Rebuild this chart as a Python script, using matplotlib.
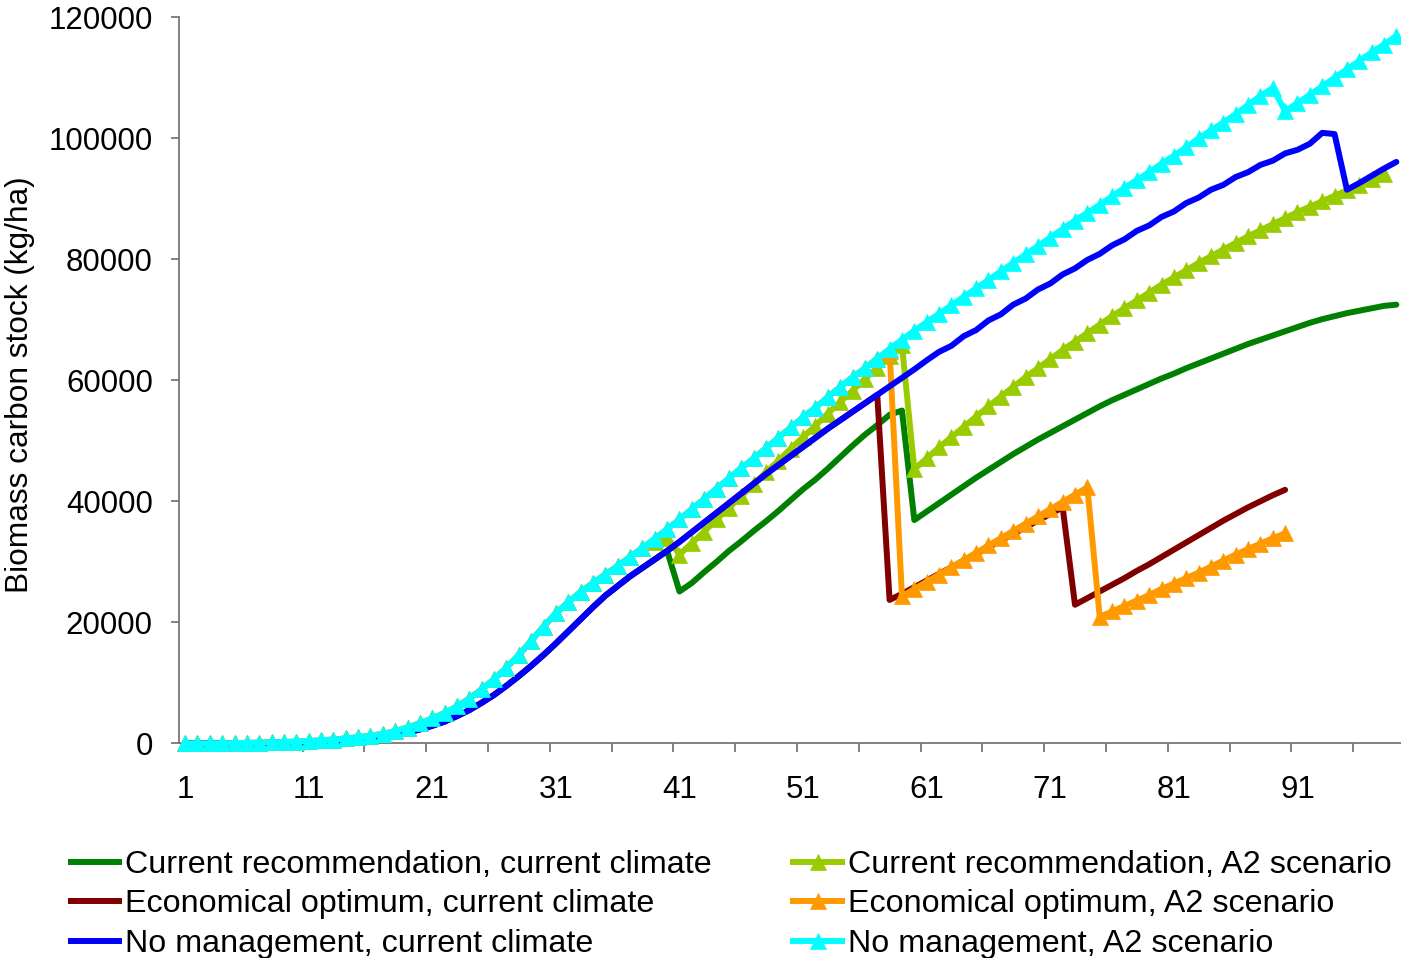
import matplotlib
matplotlib.use('Agg')
import matplotlib.pyplot as plt
from matplotlib.lines import Line2D

plt.rcParams['font.family'] = ['Liberation Sans', 'DejaVu Sans']

# ---------------- data ----------------
years = list(range(1, 100))

no_mgmt_cc = [0, 0, 0, 0, 10, 20, 40, 70, 100, 150,
              220, 300, 400, 520, 670, 850, 1100, 1400, 1800, 2300,
              2900, 3600, 4500, 5500, 6700, 8000, 9500, 11100, 12800, 14600,
              16500, 18500, 20500, 22500, 24400, 26000, 27600, 29000, 30400, 31800,
              33300, 34900, 36500, 38100, 39700, 41300, 42900, 44500, 46000, 47500,
              49000, 50500, 52000, 53400, 54800, 56200, 57600, 59000, 60400, 61800,
              63300, 64700, 65700, 67300, 68300, 69900, 70900, 72500, 73500, 75000,
              76000, 77500, 78500, 79900, 80900, 82300, 83300, 84700, 85600, 87000,
              87900, 89300, 90200, 91500, 92300, 93600, 94400, 95600, 96300, 97500,
              98100, 99100, 100900, 100700, 91500, 92600, 93800, 95000, 96100]

cur_rec_cc = [0, 0, 0, 0, 10, 20, 40, 70, 100, 150,
              220, 300, 400, 520, 670, 850, 1100, 1400, 1800, 2300,
              2900, 3600, 4500, 5500, 6700, 8000, 9500, 11100, 12800, 14600,
              16500, 18500, 20500, 22500, 24400, 26000, 27600, 29000, 30400, 31800,
              25100, 26500, 28300, 30000, 31800, 33400, 35100, 36700, 38400, 40200,
              42000, 43600, 45400, 47300, 49200, 51000, 52600, 54300, 55000, 36900,
              38300, 39700, 41100, 42500, 43900, 45200, 46500, 47800, 49000, 50200,
              51300, 52400, 53500, 54600, 55700, 56700, 57600, 58500, 59400, 60300,
              61100, 62000, 62800, 63600, 64400, 65200, 66000, 66700, 67400, 68100,
              68800, 69500, 70100, 70600, 71100, 71500, 71900, 72300, 72500]

econ_opt_cc = [0, 0, 0, 0, 10, 20, 40, 70, 100, 150,
               220, 300, 400, 520, 670, 850, 1100, 1400, 1800, 2300,
               2900, 3600, 4500, 5500, 6700, 8000, 9500, 11100, 12800, 14600,
               16500, 18500, 20500, 22500, 24400, 26000, 27600, 29000, 30400, 31800,
               33300, 34900, 36500, 38100, 39700, 41300, 42900, 44500, 46000, 47500,
               49000, 50500, 52000, 53400, 54800, 56200, 57600, 23700, 24700, 25800,
               26900, 28000, 29100, 30200, 31300, 32400, 33500, 34600, 35700, 36800,
               37900, 39000, 22900, 24000, 25100, 26200, 27300, 28500, 29600, 30800,
               32000, 33200, 34400, 35600, 36800, 37900, 39000, 40000, 41000, 41900]

no_mgmt_a2 = [0, 0, 0, 20, 40, 70, 100, 150, 200, 280,
              370, 480, 620, 800, 1000, 1250, 1550, 2000, 2600, 3300,
              4100, 5000, 6100, 7400, 8900, 10600, 12500, 14600, 16900, 19300,
              21500, 23300, 25000, 26500, 27900, 29300, 30800, 32300, 33800, 35400,
              37000, 38700, 40400, 42100, 43800, 45500, 47100, 48800, 50500, 52200,
              53900, 55500, 57200, 58900, 60500, 62000, 63600, 65200, 66700, 68200,
              69600, 71000, 72400, 73800, 75200, 76600, 78000, 79400, 80800, 82200,
              83600, 85000, 86400, 87700, 89000, 90400, 91800, 93100, 94400, 95800,
              97100, 98500, 100000, 101300, 102600, 104000, 105500, 107000, 108300, 104500,
              105800, 107200, 108600, 110000, 111400, 112800, 114200, 115500, 116900]

cur_rec_a2 = [0, 0, 0, 20, 40, 70, 100, 150, 200, 280,
              370, 480, 620, 800, 1000, 1250, 1550, 2000, 2600, 3300,
              4100, 5000, 6100, 7400, 8900, 10600, 12500, 14600, 16900, 19300,
              21500, 23300, 25000, 26500, 27900, 29300, 30800, 32300, 33200, 34000,
              31200, 33100, 35000, 37000, 38900, 40900, 42800, 44800, 46700, 48700,
              50600, 52500, 54500, 56400, 58300, 60200, 62100, 64000, 65800, 45300,
              47100, 48900, 50600, 52300, 54000, 55700, 57300, 58900, 60500, 62000,
              63500, 65000, 66400, 67800, 69200, 70600, 71900, 73200, 74500, 75800,
              77000, 78200, 79400, 80500, 81600, 82700, 83800, 84800, 85800, 86800,
              87800, 88700, 89600, 90500, 91400, 92300, 93200, 94100]

econ_opt_a2 = [0, 0, 0, 20, 40, 70, 100, 150, 200, 280,
               370, 480, 620, 800, 1000, 1250, 1550, 2000, 2600, 3300,
               4100, 5000, 6100, 7400, 8900, 10600, 12500, 14600, 16900, 19300,
               21500, 23300, 25000, 26500, 27900, 29300, 30800, 32300, 33800, 35400,
               37000, 38700, 40400, 42100, 43800, 45500, 47100, 48800, 50500, 52200,
               53900, 55500, 57200, 58900, 60500, 62000, 63600, 64800, 24300, 25500,
               26700, 27900, 29100, 30300, 31500, 32700, 33900, 35100, 36300, 37500,
               38700, 39900, 41100, 42300, 20900, 21800, 22700, 23600, 24500, 25500,
               26400, 27300, 28200, 29200, 30200, 31200, 32100, 33000, 33900, 34700]

x_tick_labels = ['1', '11', '21', '31', '41', '51', '61', '71', '81', '91']
y_ticks = [0, 20000, 40000, 60000, 80000, 100000, 120000]

series = [
    ("Current recommendation, current climate", cur_rec_cc, '#008000', None),
    ("Current recommendation, A2 scenario", cur_rec_a2, '#99CC00', '^'),
    ("Economical optimum, current climate", econ_opt_cc, '#800000', None),
    ("Economical optimum, A2 scenario", econ_opt_a2, '#FF9900', '^'),
    ("No management, current climate", no_mgmt_cc, '#0000FF', None),
    ("No management, A2 scenario", no_mgmt_a2, '#00FFFF', '^'),
]

# ---------------- figure ----------------
W, H = 1401, 958
fig = plt.figure(figsize=(W / 100, H / 100), dpi=100)
fig.patch.set_facecolor('white')
ax = fig.add_axes([178.9 / W, (H - 743.3) / H, 1236 / W, 726 / H])

LW = 4.3
MS = 12
for i, (label, vals, color, marker) in enumerate(series):
    ax.plot(years[:len(vals)], vals, color=color, lw=LW, marker=marker,
            ms=MS, mec=color, mew=0.5, mfc=color, clip_on=False,
            solid_joinstyle='round', solid_capstyle='round', zorder=3 + i)

axis_color = '#777777'
ax.set_xlim(0.5, 100.5)
ax.set_ylim(0, 120000)
for s in ['top', 'right']:
    ax.spines[s].set_visible(False)
for s in ['left', 'bottom']:
    ax.spines[s].set_color(axis_color)
    ax.spines[s].set_linewidth(1.3)

ax.set_xticks([int(t) for t in x_tick_labels])
ax.set_xticklabels(x_tick_labels)
ax.set_xticks([5.5 + 5 * k for k in range(19)], minor=True)
ax.tick_params(axis='x', which='major', length=0, pad=23, labelsize=22.5, labelcolor='black')
ax.tick_params(axis='x', which='minor', length=6.5, width=1.3, color=axis_color, direction='out')

ax.set_yticks(y_ticks)
ax.set_yticklabels([str(v) for v in y_ticks])
ax.tick_params(axis='y', which='major', length=5.8, width=1.3, color=axis_color,
               direction='out', pad=13, labelsize=22.5, labelcolor='black')

fig.text(20 / W, 1 - 385 / H, "Biomass carbon stock (kg/ha)", rotation=90,
         ha='center', va='center', fontsize=22.8)

# ---------------- legend (manual layout) ----------------
col_handle = [(68, 122), (790, 845)]
col_text = [125, 848]
row_y = [865, 904, 944]
order = [(0, 0), (1, 0), (0, 1), (1, 1), (0, 2), (1, 2)]  # (col,row) for series order
for (label, vals, color, marker), (c, r) in zip(series, order):
    x0, x1 = col_handle[c]
    yy = 1 - (row_y[r] - 3) / H
    fig.add_artist(Line2D([x0 / W, x1 / W], [yy, yy], transform=fig.transFigure,
                          color=color, lw=LW, solid_capstyle='butt'))
    if marker:
        fig.add_artist(Line2D([(x0 + x1) / 2 / W], [yy], transform=fig.transFigure,
                              color=color, marker=marker, ms=MS, mec=color, mew=0.5))
    fig.text(col_text[c] / W, 1 - row_y[r] / H, label, ha='left', va='center',
             fontsize=23.2)

fig.savefig('out.png', dpi=100)
